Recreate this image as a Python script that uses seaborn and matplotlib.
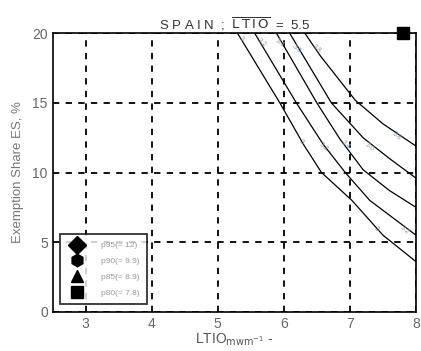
import numpy as np
import pandas as pd
import matplotlib
matplotlib.use("Agg")
import matplotlib.pyplot as plt
import seaborn as sns

# contour lines (LTIO, ES %)
c1_x = [5.30, 5.94, 6.30, 6.57, 7.03, 7.50, 8.00]
c1_y = [20.0, 15.0, 12.0, 10.0, 8.0, 5.5, 3.6]
c2_x = [5.56, 6.19, 6.60, 6.93, 7.30, 8.00]
c2_y = [20.0, 15.0, 12.0, 10.0, 8.0, 5.5]
c3_x = [5.89, 6.50, 6.85, 7.20, 7.60, 8.00]
c3_y = [20.0, 15.0, 12.4, 10.2, 8.7, 7.5]
c4_x = [6.09, 6.72, 7.20, 7.60, 8.00]
c4_y = [20.0, 15.0, 12.5, 11.0, 9.6]
c5_x = [6.32, 6.55, 7.08, 7.50, 8.00]
c5_y = [20.0, 18.4, 15.2, 13.5, 11.9]
levels = ["3", "3.2", "3.4", "3.6", "3.8"]

# contour label positions
lab_x = [5.36, 5.66, 5.94, 6.19, 6.50, 6.27, 6.60, 6.93, 7.30, 7.70, 7.40, 7.83]
lab_y = [19.6, 19.3, 19.3, 18.9, 18.9, 12.2, 11.85, 12.0, 11.85, 12.6, 5.9, 5.9]
lab_txt = ["3", "3.2", "3.4", "3.6", "3.8", "3", "3.2", "3.4", "3.6", "3.8", "3", "3.2"]

# percentile markers
pct_labels = ["p95(= 12)", "p90(= 9.9)", "p85(= 8.9)", "p80(= 7.8)"]
pct_values = [12.0, 9.9, 8.9, 7.8]
pct_markers = ["D", "h", "^", "s"]

rows = []
for name, xs, ys in zip(levels, [c1_x, c2_x, c3_x, c4_x, c5_x], [c1_y, c2_y, c3_y, c4_y, c5_y]):
    for i, (a, b) in enumerate(zip(xs, ys)):
        rows.append({"level": name, "order": i, "LTIO": a, "ES": b})
df = pd.DataFrame(rows)

sns.set_style("white")
plt.rcParams['font.family'] = ['Liberation Sans', 'DejaVu Sans']

fig = plt.figure(figsize=(4.21, 3.51), dpi=100)
ax = fig.add_axes([0.125, 0.112, 0.863, 0.793])

sns.lineplot(data=df, x="LTIO", y="ES", hue="level", units="level", estimator=None,
             sort=False, palette=["black"] * 5, linewidth=0.9, legend=False, ax=ax)

for a, b, t in zip(lab_x, lab_y, lab_txt):
    ax.text(a, b, t, fontsize=5, color="#8a9aaa", ha="center", va="center", rotation=-40)

handles = []
for lab, val, mk in zip(pct_labels, pct_values, pct_markers):
    h, = ax.plot([val], [20], marker=mk, color="black", markersize=9, linestyle="none",
                 clip_on=False, label=lab)
    handles.append(h)

ax.set_xlim(2.5, 8)
ax.set_ylim(0, 20)
ax.set_xticks([3, 4, 5, 6, 7, 8])
ax.set_yticks([0, 5, 10, 15, 20])
ax.grid(True, color="black", linestyle=(0, (3.5, 3.5)), linewidth=1.3)
for s in ax.spines.values():
    s.set_color("black")
    s.set_linewidth(1.2)
ax.tick_params(direction="in", length=3, colors="black", labelcolor="#666666", labelsize=10)

ax.set_title(r"S P A I N  ;  $\overline{\mathrm{L\,T\,I\,O}}$  =  5.5", fontsize=9.5,
             color="#333333", pad=3)
ax.set_xlabel(r"LTIO$_{\mathrm{mwm^{-1}}}$ -", fontsize=10, color="#555555", labelpad=1)
ax.set_ylabel("Exemption Share ES, %", fontsize=9.5, color="#777777", labelpad=6)

leg = ax.legend(handles=handles, loc="lower left", fontsize=6, frameon=True, fancybox=False,
                edgecolor="black", borderpad=0.9, labelspacing=0.95, handletextpad=1.6,
                handlelength=2.4, bbox_to_anchor=(0.008, 0.012), markerscale=1.0)
leg.get_frame().set_linewidth(1.3)
for t in leg.get_texts():
    t.set_color("#999999")

fig.savefig("out.png", dpi=100)
